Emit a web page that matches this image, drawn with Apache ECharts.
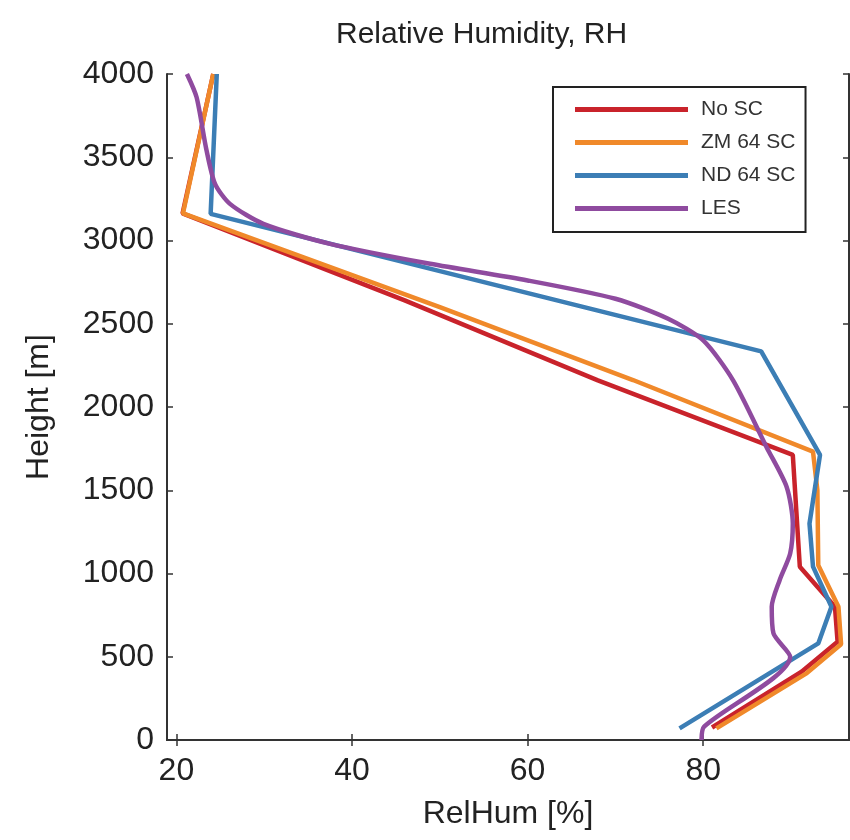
<!DOCTYPE html>
<html>
<head>
<meta charset="utf-8">
<script src="https://cdn.jsdelivr.net/npm/echarts@6/dist/echarts.min.js"></script>
<style>html,body{margin:0;padding:0;background:#fff}#c{width:850px;height:840px}</style>
</head>
<body>
<div id="c"></div>
<script>
// ---- data (RelHum [%], Height [m]) ----
const seriesNames = ["No SC", "ZM 64 SC", "ND 64 SC", "LES"];
const xTicks = [20, 40, 60, 80];

const noSC_rh = [24.2, 20.7, 46.0, 68.0, 90.2, 91.0, 95.0, 95.3, 91.2, 81.0];
const noSC_h  = [4000, 3163, 2640, 2160, 1712, 1041, 800, 590, 410, 75];

const zm_rh = [24.2, 20.75, 50.0, 72.0, 92.5, 93.0, 93.1, 95.4, 95.7, 91.8, 81.5];
const zm_h  = [4000, 3163, 2600, 2162, 1732, 1500, 1050, 800, 575, 402, 70];

const nd_rh = [24.6, 23.9, 86.6, 93.3, 92.1, 92.5, 94.6, 93.1, 77.3];
const nd_h  = [4000, 3160, 2334, 1712, 1300, 1041, 800, 580, 70];

const les_rh = [21.2, 22.3, 23.4, 24.4, 26.1, 29.9, 37.5, 48.9, 60.0, 70.0, 76.0, 80.0, 83.4, 87.2, 89.5, 90.2, 89.9, 88.7, 87.8, 88.0, 89.9, 80.1, 79.8];
const les_h  = [4000, 3860, 3550, 3340, 3220, 3100, 2980, 2860, 2760, 2650, 2530, 2400, 2160, 1760, 1520, 1300, 1120, 960, 800, 640, 500, 80, 0];

const colors = ["#c9232b", "#f0892a", "#3c7eb5", "#8f4b9f"];

function zip(xs, ys) { return xs.map((x, i) => [x, ys[i]]); }

const FONT = "Liberation Sans, Arial, Helvetica, sans-serif";
const chart = echarts.init(document.getElementById('c'), null, {renderer: 'canvas'});

const axisLineStyle = {color: '#333', width: 2};

chart.setOption({
  animation: false,
  backgroundColor: '#fff',
  title: {
    text: 'Relative Humidity, RH',
    left: 331, top: 15,
    textStyle: {fontFamily: FONT, fontSize: 30, fontWeight: 'normal', color: '#222'}
  },
  legend: {
    data: seriesNames,
    orient: 'vertical',
    left: 553, top: 87,
    padding: [12, 10, 13, 22],
    itemGap: 12,
    itemWidth: 113, itemHeight: 5,
    icon: 'rect',
    backgroundColor: '#fff',
    borderColor: '#222', borderWidth: 2,
    textStyle: {fontFamily: FONT, fontSize: 21, color: '#333', lineHeight: 20, padding: [0, 0, 0, 8]}
  },
  grid: {left: 167, top: 74, width: 682, height: 666, containLabel: false},
  xAxis: [{
    type: 'value', min: 18.93, max: 96.6, position: 'bottom',
    name: 'RelHum [%]', nameLocation: 'middle', nameGap: 58,
    nameTextStyle: {fontFamily: FONT, fontSize: 32, color: '#222'},
    axisLine: {show: true, lineStyle: axisLineStyle},
    axisTick: {show: true, inside: true, length: 6, customValues: xTicks, lineStyle: {color: '#333', width: 1.5}},
    axisLabel: {customValues: xTicks, fontFamily: FONT, fontSize: 32, color: '#222', margin: 15},
    splitLine: {show: false}
  }, {
    type: 'value', min: 18.93, max: 96.6, position: 'top',
    axisLine: {show: true, lineStyle: axisLineStyle},
    axisTick: {show: true, inside: true, length: 6, customValues: xTicks, lineStyle: {color: '#333', width: 1.5}},
    axisLabel: {show: false},
    splitLine: {show: false}
  }],
  yAxis: [{
    type: 'value', min: 0, max: 4000, interval: 500, position: 'left',
    name: 'Height [m]', nameLocation: 'middle', nameGap: 112, nameRotate: 90,
    nameTextStyle: {fontFamily: FONT, fontSize: 32, color: '#222'},
    axisLine: {show: true, lineStyle: axisLineStyle},
    axisTick: {show: true, inside: true, length: 6, lineStyle: {color: '#333', width: 1.5}},
    axisLabel: {fontFamily: FONT, fontSize: 32, color: '#222', margin: 13, formatter: v => String(v)},
    splitLine: {show: false}
  }, {
    type: 'value', min: 0, max: 4000, interval: 500, position: 'right',
    axisLine: {show: true, lineStyle: axisLineStyle},
    axisTick: {show: true, inside: true, length: 6, lineStyle: {color: '#333', width: 1.5}},
    axisLabel: {show: false},
    splitLine: {show: false}
  }],
  series: [
    {name: seriesNames[0], type: 'line', data: zip(noSC_rh, noSC_h), color: colors[0], showSymbol: false, lineStyle: {width: 4.5, color: colors[0]}},
    {name: seriesNames[1], type: 'line', data: zip(zm_rh, zm_h), color: colors[1], showSymbol: false, lineStyle: {width: 4.5, color: colors[1]}},
    {name: seriesNames[2], type: 'line', data: zip(nd_rh, nd_h), color: colors[2], showSymbol: false, lineStyle: {width: 4.5, color: colors[2]}},
    {name: seriesNames[3], type: 'line', data: zip(les_rh, les_h), color: colors[3], showSymbol: false, lineStyle: {width: 4.5, color: colors[3]}, smooth: 0.25}
  ]
});
</script>
</body>
</html>
